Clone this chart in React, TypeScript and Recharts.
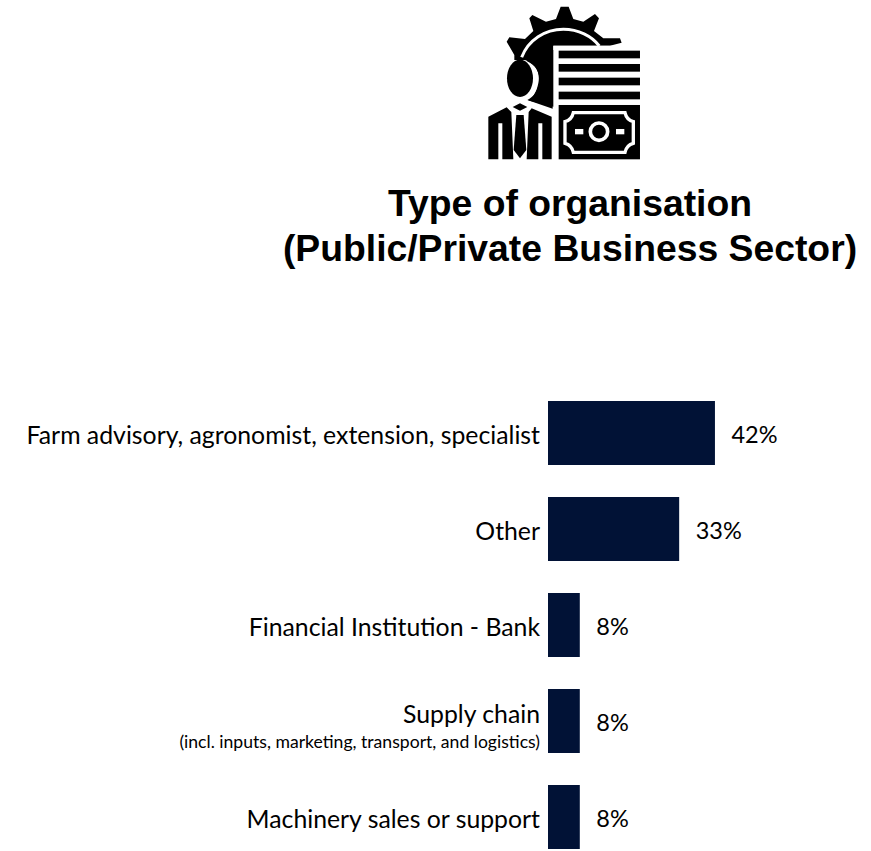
import React from "react";
import { BarChart, Bar, XAxis, YAxis, LabelList } from "recharts";

const categories = [
  "Farm advisory, agronomist, extension, specialist",
  "Other",
  "Financial Institution - Bank",
  "Supply chain",
  "Machinery sales or support",
];
const shares = [42, 33, 8, 8, 8];
const sublabels: Record<string, string> = {
  "Supply chain": "(incl. inputs, marketing, transport, and logistics)",
};
const titleLines = ["Type of organisation", "(Public/Private Business Sector)"];

const rows = categories.map((name, i) => ({ name, share: shares[i] }));

const NAVY = "#011236";
const LABEL_FONT = "Lato, 'Open Sans', sans-serif";

function CategoryTick(props: any) {
  const { x, y, payload } = props;
  const sub = sublabels[payload.value];
  return (
    <g>
      <text x={x} y={sub ? y + 2 : y + 10.5} textAnchor="end" fontFamily={LABEL_FONT} fontSize={24.8} fill="#000">
        {payload.value}
      </text>
      {sub && (
        <text x={x} y={y + 27} textAnchor="end" fontFamily={LABEL_FONT} fontSize={17.6} fill="#000">
          {sub}
        </text>
      )}
    </g>
  );
}

// Advisor-with-gear emblem, drawn on a 570-unit grid and scaled down.
function Emblem() {
  return (
    <g transform="translate(470,0) scale(0.3333)">
      <polygon
        fill="#000"
        points="133,165 110,125 118,112 165,117 190,93 178,55 187,45 228,65 258,57 272,20 296,20 310,57 340,65 375,42 387,55 372,93 400,115 450,115 455,128 420,137 250,137 250,320 170,300 133,200"
      />
      <path d="M155,172 C175,120 225,88 280,88 C325,88 365,108 388,138" fill="none" stroke="#fff" strokeWidth={9} />
      <polygon fill="#fff" points="250,137 460,137 460,150 250,150" />
      <path d="M165,180 C195,190 212,215 205,250 C200,275 190,295 170,305 L250,335 L250,480 L40,480 L40,180 Z" fill="#fff" />
      <ellipse cx={150} cy={235} rx={39} ry={56} fill="#000" />
      <path d="M170,183 C198,195 212,218 207,250 C202,275 190,292 172,300 L248,326 L248,137 L200,137 Z" fill="#000" />
      <path d="M55,350 L110,322 L124,336 L130,478 L97,478 L97,370 L85,370 L85,478 L55,478 Z" fill="#000" />
      <path d="M185,325 L245,350 L245,478 L217,478 L217,370 L205,370 L205,478 L170,478 L176,336 Z" fill="#000" />
      <polygon fill="#000" points="150,310 172,321 150,332 128,321" />
      <polygon fill="#000" points="139,345 161,345 169,450 150,475 131,450" />

      <rect x={266} y={152} width={244} height={23} fill="#000" />
      <rect x={266} y={192} width={244} height={23} fill="#000" />
      <rect x={266} y={233} width={244} height={23} fill="#000" />
      <rect x={266} y={275} width={244} height={23} fill="#000" />

      <rect x={266} y={315} width={244} height={163} fill="#000" />
      <path
        d="M310,338 L465,338 C468,352 478,362 490,365 L490,430 C478,433 468,443 465,457 L310,457 C307,443 297,433 285,430 L285,365 C297,362 307,352 310,338 Z"
        fill="none"
        stroke="#fff"
        strokeWidth={10}
      />
      <circle cx={387} cy={395} r={26} fill="none" stroke="#fff" strokeWidth={11} />
      <rect x={315} y={387} width={25} height={16} fill="#fff" />
      <rect x={438} y={387} width={25} height={16} fill="#fff" />
    </g>
  );
}

export default function App() {
  return (
    <div style={{ position: "absolute", left: 0, top: 0, width: 871, height: 851, overflow: "hidden", background: "#fff" }}>
      <svg width={871} height={290} style={{ position: "absolute", left: 0, top: 0 }}>
        <Emblem />
        {titleLines.map((line, i) => (
          <text
            key={line}
            x={570}
            y={216 + i * 45}
            textAnchor="middle"
            fontFamily="'Liberation Sans', Arial, sans-serif"
            fontWeight={700}
            fontSize={37.3}
            fill="#000"
          >
            {line}
          </text>
        ))}
      </svg>
      <div style={{ position: "absolute", left: 0, top: 0 }}>
        <BarChart
          width={871}
          height={865}
          data={rows}
          layout="vertical"
          margin={{ top: 385, right: 5, bottom: 0, left: 0 }}
          barCategoryGap={16}
        >
          <XAxis type="number" domain={[0, 80]} hide />
          <YAxis
            type="category"
            dataKey="name"
            width={548}
            axisLine={false}
            tickLine={false}
            tickSize={0}
            tickMargin={8}
            interval={0}
            tick={<CategoryTick />}
          />
          <Bar dataKey="share" fill={NAVY} isAnimationActive={false}>
            <LabelList
              dataKey="share"
              position="right"
              offset={16.5}
              dy={2}
              formatter={(v: number) => `${v}%`}
              fontFamily={LABEL_FONT}
              fontSize={23.5}
              fill="#000"
            />
          </Bar>
        </BarChart>
      </div>
    </div>
  );
}
